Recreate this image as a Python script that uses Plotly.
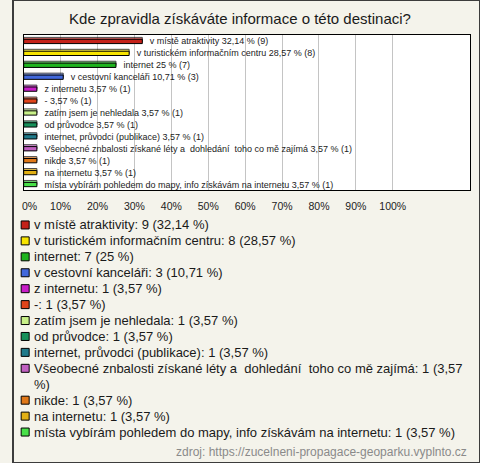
import plotly.graph_objects as go

W, H = 480, 463

# ---------------------------------------------------------------------------
# Data
# ---------------------------------------------------------------------------
labels = [
    "v místě atraktivity",
    "v turistickém informačním centru",
    "internet",
    "v cestovní kanceláři",
    "z internetu",
    "-",
    "zatím jsem je nehledala",
    "od průvodce",
    "internet, průvodci (publikace)",
    "Všeobecné znbalosti získané léty a\u00a0\u00a0dohledání\u00a0\u00a0toho co mě zajímá",
    "nikde",
    "na internetu",
    "místa vybírám pohledem do mapy, info získávám na internetu",
]
counts = [9, 8, 7, 3, 1, 1, 1, 1, 1, 1, 1, 1, 1]
pcts = [32.14, 28.57, 25, 10.71, 3.57, 3.57, 3.57, 3.57, 3.57, 3.57, 3.57, 3.57, 3.57]
tick_vals = [0, 10, 20, 30, 40, 50, 60, 70, 80, 90, 100]

colors = ["#c4221a", "#f7e400", "#1eb41e", "#4168dc", "#c81ec8", "#e0441a", "#c8f088",
          "#16905a", "#1f7a8a", "#c060c0", "#e07818", "#e2b014", "#48e048"]

TITLE = "Kde zpravidla získáváte informace o této destinaci?"
SOURCE = "zdroj: https://zucelneni-propagace-geoparku.vyplnto.cz"

FONT = "Liberation Sans, Arial, sans-serif"
BG = "#f4f3eb"


def fmt(p):
    return f"{p:g}".replace(".", ",")


def wrap(text, limit=75):
    if len(text) <= limit:
        return [text]
    cut = text.rfind(" ", 0, limit)
    return [text[:cut], text[cut + 1:]]


def px_x(p):
    return p / W


def px_y(p):
    return (H - p) / H


idx = list(range(len(labels)))
bar_text = [f"\u00a0\u00a0\u00a0{l} {fmt(p)} % ({c})" for l, p, c in zip(labels, pcts, counts)]

fig = go.Figure()

# white plot area only behind the bar chart (legend subplot keeps the beige)
fig.add_shape(type="rect", xref="x domain", yref="y domain", x0=0, x1=1, y0=0, y1=1,
              fillcolor="#ffffff", line=dict(width=0), layer="below")

# back face (3D top)
fig.add_trace(go.Bar(
    x=pcts, y=idx, orientation="h", width=0.36, offset=-0.3,
    marker=dict(color=colors, line=dict(color="#000000", width=1), opacity=0.7),
    hoverinfo="skip", showlegend=False,
))
# front face
fig.add_trace(go.Bar(
    x=pcts, y=idx, orientation="h", width=0.36, offset=-0.14,
    marker=dict(color=colors, line=dict(color="#000000", width=1)),
    text=bar_text, textposition="outside", constraintext="none", cliponaxis=False,
    textfont=dict(size=9, color="#222222", family=FONT),
    hovertemplate="%{y}: %{x} %<extra></extra>", showlegend=False,
))

# legend rows (markers on a second axis, one unit per text line)
rows, line_no = [], 0
for l, p, c in zip(labels, pcts, counts):
    lines = wrap(f"{l}: {c} ({fmt(p)} %)")
    rows.append(line_no)
    for k, t in enumerate(lines):
        fig.add_annotation(xref="paper", yref="y2", x=px_x(19.5), y=line_no + k,
                           xanchor="left", yanchor="middle", showarrow=False, text=t,
                           font=dict(size=13, color="#1a1a1a", family=FONT))
    line_no += len(lines)

fig.add_trace(go.Scatter(
    x=[0] * len(rows), y=rows, xaxis="x2", yaxis="y2", mode="markers",
    marker=dict(symbol="square", size=8, color=colors, line=dict(color="#000000", width=1)),
    hoverinfo="skip", showlegend=False, cliponaxis=False,
))

fig.update_layout(
    width=W, height=H,
    margin=dict(l=0, r=0, t=0, b=0),
    paper_bgcolor=BG, plot_bgcolor=BG,
    barmode="overlay", hovermode=False,
    font=dict(family=FONT, color="#222222"),
    title=dict(text=TITLE, x=0.5, xanchor="center", y=px_y(19), yanchor="middle",
               font=dict(size=15, color="#1a1a1a", family=FONT)),
    xaxis=dict(domain=[px_x(11), px_x(470)], range=[0, 121], tickvals=tick_vals,
               ticktext=["\u00a0\u00a0\u00a0\u00a00%"] + [f"{v}%" for v in tick_vals[1:]],
               ticklabeloverflow="allow",
               showgrid=True, gridcolor="#c4c4c4", gridwidth=1, zeroline=False,
               showline=True, linecolor="#000000", linewidth=1, mirror=True,
               ticks="", ticklabelstandoff=6, tickfont=dict(size=10.5, color="#222222")),
    yaxis=dict(domain=[px_y(190), px_y(35)], range=[len(labels) - 0.5, -0.5],
               showticklabels=False, showgrid=False, zeroline=False,
               showline=True, linecolor="#000000", linewidth=1, mirror=True, ticks=""),
    xaxis2=dict(domain=[px_x(8), px_x(17)], range=[-1, 1], visible=False, anchor="y2"),
    yaxis2=dict(domain=[px_y(440), px_y(217)], range=[line_no - 0.5, -0.5],
                visible=False, anchor="x2"),
)

fig.add_annotation(xref="paper", yref="paper", x=px_x(469), y=px_y(452),
                   xanchor="right", yanchor="middle", showarrow=False, text=SOURCE,
                   font=dict(size=12, color="#8a8a8a", family=FONT))

# outer frame
fig.add_shape(type="rect", xref="paper", yref="paper", x0=0, x1=1, y0=0, y1=1,
              line=dict(color="#3c3c3c", width=2), layer="above")

fig.write_html("out.html", config={"displayModeBar": False, "staticPlot": True},
               post_script="document.body.style.margin='0';")
